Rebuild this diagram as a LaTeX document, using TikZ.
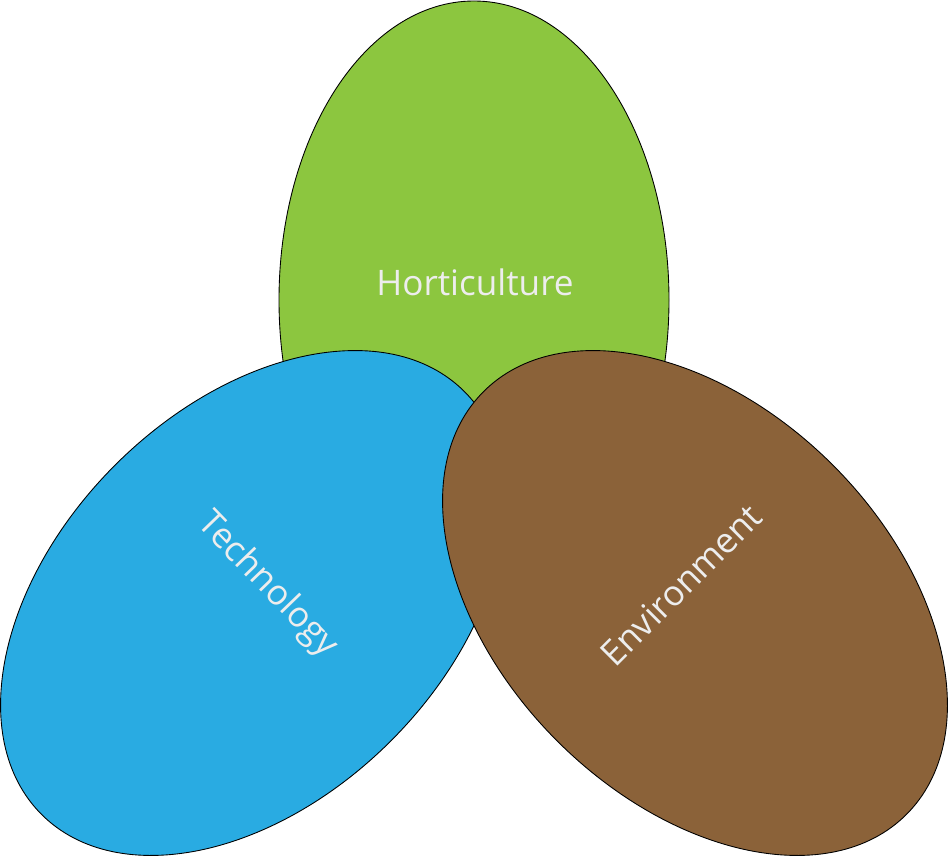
\documentclass[tikz,border=0pt]{standalone}
\usepackage{fontspec}
\setmainfont{Open Sans}
\usetikzlibrary{shapes.geometric}
\definecolor{hortgreen}{HTML}{8CC63F}
\definecolor{techblue}{HTML}{29ABE2}
\definecolor{envbrown}{HTML}{8B6239}
\begin{document}
\begin{tikzpicture}[
    petal/.style={ellipse,draw=black,line width=0.5pt,inner sep=0pt,
                  minimum width=7.8cm,minimum height=11.96cm},
    petallabel/.style={text=white!93!black,font=\fontsize{20}{24}\selectfont}]
  \useasboundingbox (0,0) rectangle (18.96,17.16);
  \node[petal,fill=hortgreen] (hort) at (9.48,11.16) {};
  \node[petal,fill=techblue,rotate=-45] (tech) at (5.06,5.1) {};
  \node[petal,fill=envbrown,rotate=45] (env) at (13.9,5.1) {};
  \node[petallabel] (hortlabel) at (9.5,11.52) {Horticulture};
  \node[petallabel,rotate=-46] (techlabel) at (5.34,5.46) {Technology};
  \node[petallabel,rotate=45] (envlabel) at (13.62,5.46) {Environment};
\end{tikzpicture}
\end{document}
